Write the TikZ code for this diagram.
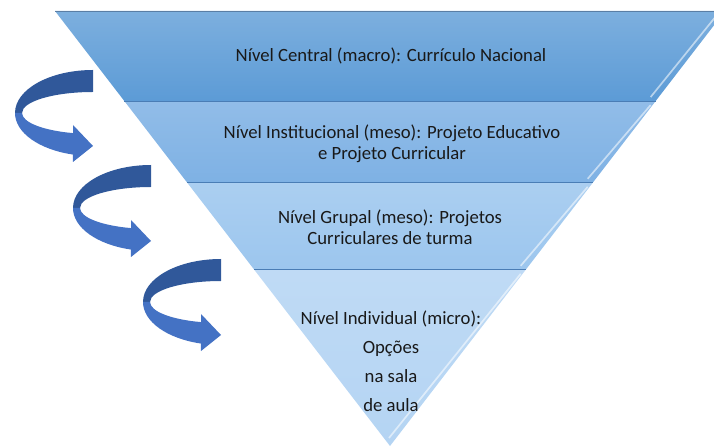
\documentclass[tikz,border=0pt]{standalone}
\usepackage{fontspec}
\setmainfont{Carlito}
\usetikzlibrary{calc}

\definecolor{azulA}{HTML}{5C9BD6}
\definecolor{azulB}{HTML}{7EB1E4}
\definecolor{azulC}{HTML}{9CC6EE}
\definecolor{azulD}{HTML}{B4D4F3}
\definecolor{borda}{HTML}{4A7DB5}
\definecolor{setaescura}{HTML}{30589A}
\definecolor{setaclara}{HTML}{4472C4}

\begin{document}
\begin{tikzpicture}[x=0.025cm,y=0.025cm,
  nivel/.style={font=\fontsize{13.3}{14.9}\selectfont, text=black!90, align=center}]
\useasboundingbox (0,0) rectangle (714,447);
\clip (0,0) rectangle (714,447);
% vertices of the inverted triangle and the band limits
\coordinate (A) at (55,436); \coordinate (B) at (725,436); \coordinate (V) at (390,1);
\coordinate (L1) at ($(A)!0.207!(V)$); \coordinate (R1) at ($(B)!0.207!(V)$);
\coordinate (L2) at ($(A)!0.395!(V)$); \coordinate (R2) at ($(B)!0.395!(V)$);
\coordinate (L3) at ($(A)!0.595!(V)$); \coordinate (R3) at ($(B)!0.595!(V)$);
\shade[top color=azulA!80!white, bottom color=azulA] (A)--(B)--(R1)--(L1)--cycle;
\shade[top color=azulB!85!white, bottom color=azulB] (L1)--(R1)--(R2)--(L2)--cycle;
\shade[top color=azulC!85!white, bottom color=azulC] (L2)--(R2)--(R3)--(L3)--cycle;
\shade[top color=azulD!85!white, bottom color=azulD] (L3)--(R3)--(V)--cycle;
\draw[borda!70!gray, line width=0.6pt] (A)--(B);
\draw[borda, line width=0.6pt] (L1)--(R1) (L2)--(R2) (L3)--(R3);
% light bevel along the right side
\draw[white, opacity=0.55, line width=1.2pt] ($(B)!0.01!(V)+(-5,0)$)--($(R1)+(-5,4)$);
\draw[white, opacity=0.55, line width=1.2pt] ($(R1)+(-5,-4)$)--($(R2)+(-5,4)$);
\draw[white, opacity=0.55, line width=1.2pt] ($(R2)+(-5,-4)$)--($(R3)+(-5,4)$);
\draw[white, opacity=0.55, line width=1.2pt] ($(R3)+(-5,-4)$)--($(V)+(-1,8)$);

\node[nivel] (central) at (391,391) {Nível Central (macro): Currículo Nacional};
\node[nivel] (institucional) at (392,303.5) {Nível Institucional (meso): Projeto Educativo\\e Projeto Curricular};
\node[nivel] (grupal) at (390,219.5) {Nível Grupal (meso): Projetos\\Curriculares de turma};
\node[nivel, font=\fontsize{13.3}{20.6}\selectfont] (individual) at (391,85.5) {Nível Individual (micro):\\Opções\\na sala\\de aula};

% curved arrows on the left
\foreach \dx/\dy in {0/0, 58/-95, 128/-189}{
  \begin{scope}[shift={(\dx,\dy)}]
  \fill[setaescura] (93,377) arc[start angle=90, end angle=180, x radius=78, y radius=43]
    -- (22,334) arc[start angle=180, end angle=90, x radius=71, y radius=21] -- cycle;
  \fill[setaclara] (15,334) arc[start angle=180, end angle=255, x radius=78, y radius=43]
    -- (73,285) -- (93,301) -- (73,322) -- (73,313.9)
    arc[start angle=253.6, end angle=180, x radius=71, y radius=21] -- cycle;
  \end{scope}
}
\end{tikzpicture}
\end{document}
